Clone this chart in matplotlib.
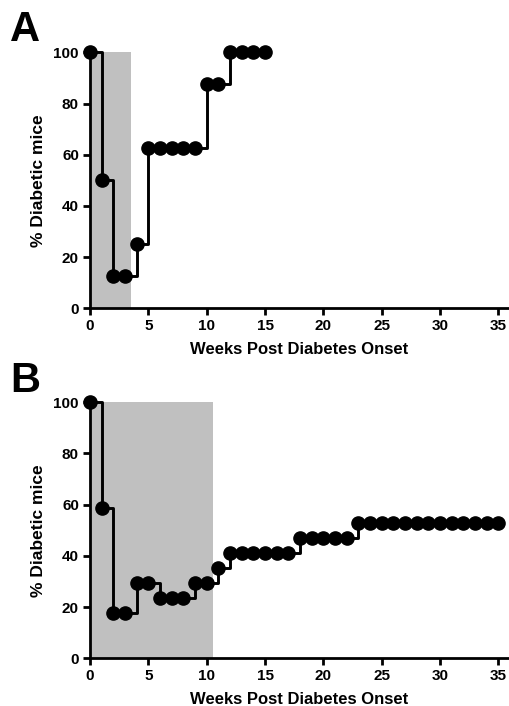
import matplotlib
matplotlib.use("Agg")
import matplotlib.pyplot as plt

plt.rcParams["font.family"] = ["Liberation Sans", "DejaVu Sans"]
plt.rcParams["font.weight"] = "bold"

weeks_a = list(range(0, 16))
pct_a = [100, 50, 12.5, 12.5, 25, 62.5, 62.5, 62.5, 62.5, 62.5,
         87.5, 87.5, 100, 100, 100, 100]
shade_a = (0, 3.5)

weeks_b = list(range(0, 36))
pct_b = [100, 58.8, 17.6, 17.6, 29.4, 29.4, 23.5, 23.5, 23.5, 29.4,
         29.4, 35.3, 41.2, 41.2, 41.2, 41.2, 41.2, 41.2, 47.1, 47.1,
         47.1, 47.1, 47.1, 52.9, 52.9, 52.9, 52.9, 52.9, 52.9, 52.9,
         52.9, 52.9, 52.9, 52.9, 52.9, 52.9]
shade_b = (0, 10.5)

x_ticks = [0, 5, 10, 15, 20, 25, 30, 35]
y_ticks = [0, 20, 40, 60, 80, 100]

fig = plt.figure(figsize=(5.09, 7.06), dpi=100)


def draw_panel(rect, weeks, pct, shade, letter, letter_y):
    ax = fig.add_axes(rect)
    ax.axvspan(shade[0], shade[1], ymin=0, ymax=1, color="#c0c0c0", lw=0, zorder=0)
    ax.step(weeks, pct, where="post", color="black", lw=2.1, zorder=2, clip_on=False)
    ax.plot(weeks, pct, "o", color="black", ms=9.5, zorder=3, clip_on=False)
    ax.set_xlim(0, 35.9)
    ax.set_ylim(0, 100)
    ax.set_xticks(x_ticks)
    ax.set_yticks(y_ticks)
    for s in ["top", "right"]:
        ax.spines[s].set_visible(False)
    for s in ["left", "bottom"]:
        ax.spines[s].set_linewidth(2.0)
    ax.tick_params(direction="out", length=5, width=2.0, labelsize=11, pad=3)
    for lab in ax.get_xticklabels() + ax.get_yticklabels():
        lab.set_fontweight("bold")
    ax.set_xlabel("Weeks Post Diabetes Onset", fontsize=12, fontweight="bold", labelpad=6)
    ax.set_ylabel("% Diabetic mice", fontsize=12.5, fontweight="bold", labelpad=5)
    fig.text(0.02, letter_y, letter, fontsize=30, fontweight="bold",
             va="center", ha="left")
    return ax


draw_panel([90 / 509, 0.5633, 419 / 509, 0.3626], weeks_a, pct_a, shade_a, "A", 0.958)
draw_panel([90 / 509, 0.0676, 419 / 509, 0.3626], weeks_b, pct_b, shade_b, "B", 0.460)

fig.savefig("out.png", dpi=100)
